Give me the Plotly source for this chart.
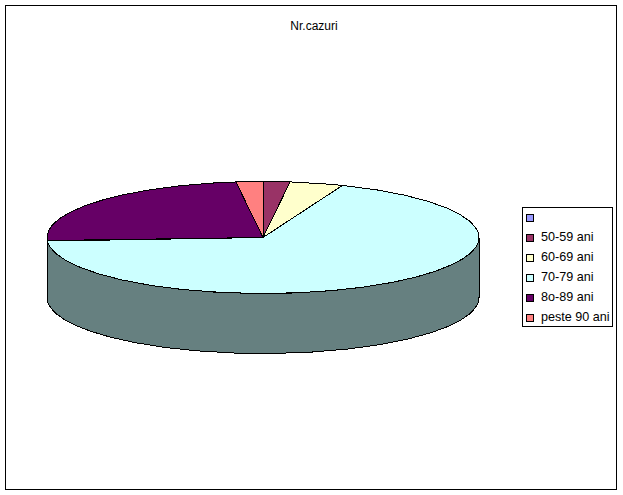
import numpy as np
import plotly.graph_objects as go

categories = ["", "50-59 ani", "60-69 ani", "70-79 ani", "8o-89 ani", "peste 90 ani"]
values = [0, 2, 4, 68, 24, 2]
colors = ["#9999FF", "#993366", "#FFFFCC", "#CCFFFF", "#660066", "#FF8080"]
wall_color = "#668080"
title = "Nr.cazuri"

W, H = 623, 495
CX, CY, RX, RY, DEPTH = 263.0, 237.5, 216.0, 56.0, 60.0
LEGEND_TOP_ROW, LEGEND_STEP = 217.5, 20.0
LEGEND_SWATCH_X, LEGEND_TEXT_X = 530.0, 541.0


def arc(a0, a1, dy=0.0):
    t = np.radians(np.linspace(a0, a1, max(2, int(abs(a1 - a0)) * 2 + 2)))
    return CX + RX * np.sin(t), CY - RY * np.cos(t) + dy


total = sum(values)
edges = np.concatenate([[0.0], np.cumsum(values) / total * 360.0])

fig = go.Figure()

# side wall: the front half of the cylinder, one colour as in the reference
xt, yt = arc(90.0, 270.0)
xb, yb = arc(270.0, 90.0, DEPTH)
fig.add_trace(go.Scatter(
    x=np.r_[xt, xb, xt[0]], y=np.r_[yt, yb, yt[0]], mode="lines", fill="toself",
    fillcolor=wall_color, line=dict(color="black", width=1),
    hoverinfo="skip", showlegend=False))

# top faces
for i, name in enumerate(categories):
    if values[i] == 0:
        continue
    xa, ya = arc(edges[i], edges[i + 1])
    fig.add_trace(go.Scatter(
        x=np.r_[CX, xa, CX], y=np.r_[CY, ya, CY], mode="lines", fill="toself",
        fillcolor=colors[i], line=dict(color="black", width=1),
        name=name, hoverinfo="name", showlegend=False))

rows = [LEGEND_TOP_ROW + LEGEND_STEP * i for i in range(len(categories))]
fig.add_trace(go.Scatter(
    x=[LEGEND_SWATCH_X] * len(rows), y=rows, mode="markers",
    marker=dict(symbol="square", size=7, color=colors, line=dict(color="black", width=1)),
    hoverinfo="skip", showlegend=False))
fig.add_trace(go.Scatter(
    x=[LEGEND_TEXT_X] * len(rows), y=rows, mode="text", text=categories,
    textposition="middle right", textfont=dict(family="Liberation Sans, Arial", size=12.6, color="black"),
    hoverinfo="skip", showlegend=False))

fig.update_layout(
    width=W, height=H, margin=dict(l=0, r=0, t=0, b=0),
    paper_bgcolor="white", plot_bgcolor="white",
    title=dict(text=title, x=314 / W, xanchor="center", xref="paper",
               y=1 - 25.5 / H, yanchor="middle", yref="container",
               font=dict(family="Liberation Sans, Arial", size=12, color="black")),
    xaxis=dict(range=[0, W], visible=False, fixedrange=True),
    yaxis=dict(range=[H, 0], visible=False, fixedrange=True),
    shapes=[
        dict(type="rect", x0=5.5, y0=5.5, x1=616.5, y1=489.5, line=dict(color="black", width=1), layer="below"),
        dict(type="rect", x0=522.5, y0=207.5, x1=612.5, y1=326.5, line=dict(color="black", width=1), layer="below"),
    ],
)

fig.write_html("out.html", config=dict(displayModeBar=False),
               post_script="document.body.style.margin='0';document.documentElement.style.overflow='hidden';"
                           "document.querySelectorAll('.main-svg path').forEach(function(p){p.style.shapeRendering='crispEdges';});")
